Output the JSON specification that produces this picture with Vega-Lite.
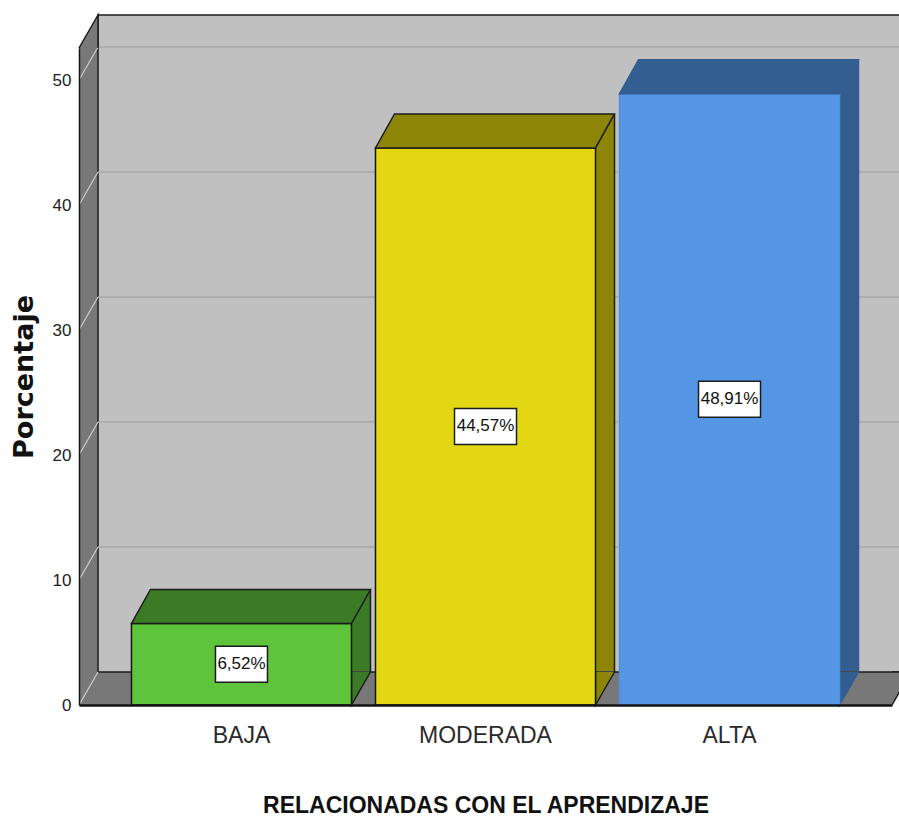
{
  "$schema": "https://vega.github.io/schema/vega-lite/v6.json",
  "width": 813,
  "height": 657,
  "autosize": {"type": "none"},
  "padding": {"left": 79, "top": 48, "right": 7, "bottom": 113},
  "background": "#ffffff",
  "config": {"view": {"fill": "#787878", "stroke": null}},
  "datasets": {
    "niveles": [
      {"cat": "BAJA", "pct": 6.52, "label": "6,52%"},
      {"cat": "MODERADA", "pct": 44.57, "label": "44,57%"},
      {"cat": "ALTA", "pct": 48.91, "label": "48,91%"}
    ],
    "marcas": [
      {"tick": 0}, {"tick": 10}, {"tick": 20}, {"tick": 30}, {"tick": 40}, {"tick": 50}
    ],
    "marco": [{"pieza": "pared"}]
  },
  "data": {"name": "niveles"},
  "resolve": {"scale": {"y": "independent"}},
  "layer": [
    {
      "layer": [
        {
          "data": {"name": "marco"},
          "mark": {"type": "rect", "fill": "#c0c0c0", "stroke": "#1c1c1c", "strokeWidth": 1.5, "xOffset": 19, "x2Offset": 19, "yOffset": -33, "y2Offset": -33},
          "encoding": {
            "x": {"value": 0},
            "x2": {"value": "width"},
            "y": {"datum": 52.56, "type": "quantitative"},
            "y2": {"datum": 0}
          }
        },
        {
          "data": {"name": "marcas"},
          "transform": [{"filter": "datum.tick > 0"}],
          "mark": {"type": "rule", "stroke": "#a9a9a9", "strokeWidth": 1.5, "xOffset": 19, "x2Offset": 19, "yOffset": -33},
          "encoding": {
            "x": {"value": 0},
            "x2": {"value": "width"},
            "y": {"field": "tick", "type": "quantitative"}
          }
        },
        {
          "data": {"name": "marcas"},
          "mark": {"type": "point", "shape": "M0,0L19,-33", "size": 4, "filled": false, "stroke": "#cdcdcd", "strokeWidth": 1.2, "opacity": 1},
          "encoding": {"x": {"value": 0}, "y": {"field": "tick", "type": "quantitative"}}
        },
        {
          "data": {"name": "marco"},
          "mark": {"type": "point", "shape": "M0,0L19,-33L19,0", "size": 4, "filled": true, "fill": "#787878", "stroke": "#1c1c1c", "strokeWidth": 1.5, "opacity": 1},
          "encoding": {"x": {"value": 0}, "y": {"value": 0}}
        },
        {
          "data": {"name": "marco"},
          "mark": {"type": "point", "shape": "M0,0L19,-33L0,-33", "size": 4, "filled": true, "fill": "#787878", "stroke": "#1c1c1c", "strokeWidth": 1.5, "opacity": 1},
          "encoding": {"x": {"value": "width"}, "y": {"value": "height"}}
        },
        {
          "mark": {"type": "bar", "xOffset": 19, "yOffset": -34, "y2Offset": -33},
          "encoding": {
            "x": {
              "field": "cat", "type": "nominal", "sort": null,
              "scale": {"paddingInner": 0.0984, "paddingOuter": 0.215},
              "axis": {
                "title": "RELACIONADAS CON EL APRENDIZAJE",
                "ticks": false, "tickSize": 0,
                "domainColor": "#141414", "domainWidth": 2.5,
                "labelAngle": 0, "labelFont": "Liberation Sans", "labelFontSize": 23,
                "labelColor": "#2a2a2a", "labelPadding": 19,
                "titleFont": "Liberation Sans", "titleFontSize": 23, "titleFontWeight": "bold",
                "titleColor": "#111111", "titleY": 107, "titleBaseline": "alphabetic",
                "zindex": 1
              }
            },
            "y": {
              "field": "pct", "type": "quantitative",
              "scale": {"domain": [0, 52.56], "nice": false},
              "axis": {
                "title": "Porcentaje",
                "values": [0, 10, 20, 30, 40, 50],
                "grid": false, "ticks": false, "tickSize": 0,
                "domainColor": "#141414", "domainWidth": 1.5,
                "labelFont": "Liberation Sans", "labelFontSize": 17,
                "labelColor": "#222222", "labelPadding": 8,
                "titleFont": "DejaVu Sans", "titleFontSize": 27, "titleFontWeight": "bold",
                "titleColor": "#111111", "titleX": -47, "titleBaseline": "alphabetic",
                "zindex": 1
              }
            },
            "fill": {"condition": [{"test": "datum.cat === 'BAJA'", "value": "#3b7b25"}, {"test": "datum.cat === 'MODERADA'", "value": "#8c8507"}], "value": "#335e92"}
          }
        },
        {
          "mark": {"type": "rule", "xOffset": 129, "yOffset": -34, "y2Offset": -33, "strokeWidth": 1.5},
          "encoding": {
            "x": {"field": "cat", "type": "nominal", "sort": null},
            "y": {"field": "pct", "type": "quantitative"},
            "y2": {"datum": 0},
            "stroke": {"condition": {"test": "datum.cat === 'ALTA'", "value": "#335e92"}, "value": "#1c1c1c"}
          }
        },
        {
          "mark": {"type": "point", "shape": "M110,-33L110,0L129,-33", "size": 4, "filled": true, "opacity": 1, "strokeWidth": 1.5},
          "encoding": {
            "x": {"field": "cat", "type": "nominal", "sort": null},
            "y": {"datum": 0, "type": "quantitative"},
            "fill": {"condition": [{"test": "datum.cat === 'BAJA'", "value": "#3b7b25"}, {"test": "datum.cat === 'MODERADA'", "value": "#8c8507"}], "value": "#335e92"},
            "stroke": {"condition": {"test": "datum.cat === 'ALTA'", "value": "#335e92"}, "value": "#1c1c1c"}
          }
        },
        {
          "mark": {"type": "bar", "strokeWidth": 1.5},
          "encoding": {
            "x": {"field": "cat", "type": "nominal", "sort": null},
            "y": {"field": "pct", "type": "quantitative"},
            "fill": {"condition": [{"test": "datum.cat === 'BAJA'", "value": "#5dc43b"}, {"test": "datum.cat === 'MODERADA'", "value": "#e3d713"}], "value": "#5597e5"},
            "stroke": {"condition": {"test": "datum.cat === 'ALTA'", "value": "#4f8fdc"}, "value": "#141414"}
          }
        },
        {
          "mark": {"type": "point", "shape": "M-110,0L110,0L129,-34L-91,-34Z", "size": 4, "filled": true, "opacity": 1, "strokeWidth": 1.5},
          "encoding": {
            "x": {"field": "cat", "type": "nominal", "sort": null},
            "y": {"field": "pct", "type": "quantitative"},
            "fill": {"condition": [{"test": "datum.cat === 'BAJA'", "value": "#3b7b25"}, {"test": "datum.cat === 'MODERADA'", "value": "#8c8507"}], "value": "#335e92"},
            "stroke": {"condition": {"test": "datum.cat === 'ALTA'", "value": "#335e92"}, "value": "#1c1c1c"}
          }
        }
      ]
    },
    {
      "encoding": {
        "x": {"field": "cat", "type": "nominal", "sort": null},
        "y": {"field": "pct", "type": "quantitative", "scale": {"domain": [0, 105.12], "nice": false}, "axis": null}
      },
      "layer": [
        {
          "mark": {"type": "point", "size": 4, "filled": true, "fill": "#ffffff", "stroke": "#1c1c1c", "strokeWidth": 1.5, "opacity": 1},
          "encoding": {
            "shape": {"condition": {"test": "datum.cat === 'BAJA'", "value": "M-26,-18H26V18H-26Z"}, "value": "M-31,-18H31V18H-31Z"}
          }
        },
        {
          "mark": {"type": "text", "font": "Liberation Sans", "fontSize": 17, "color": "#111111"},
          "encoding": {"text": {"field": "label"}}
        }
      ]
    }
  ]
}
